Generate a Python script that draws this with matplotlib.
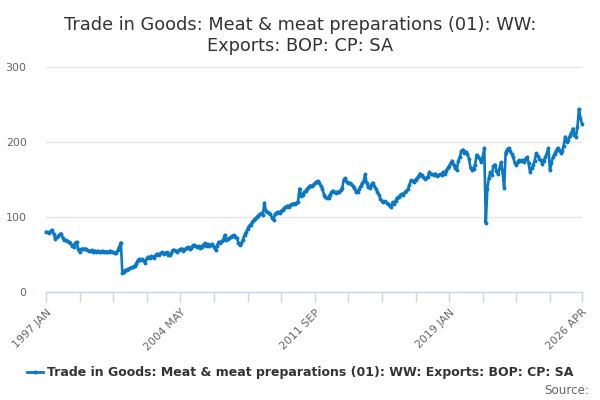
import matplotlib
matplotlib.use("Agg")
import matplotlib.pyplot as plt
from matplotlib.lines import Line2D

title = "Trade in Goods: Meat & meat preparations (01): WW:\nExports: BOP: CP: SA"
series_name = "Trade in Goods: Meat & meat preparations (01): WW: Exports: BOP: CP: SA"
months = ["JAN", "FEB", "MAR", "APR", "MAY", "JUN", "JUL", "AUG", "SEP", "OCT", "NOV", "DEC"]
start_year = 1997

# monthly values, one row per year (1997 JAN .. 2026 APR)
exports = [
    80, 80, 79, 81, 83, 78, 71, 73, 75, 77, 78, 72,            # 1997
    69, 69, 68, 67, 66, 62, 60, 65, 67, 58, 53, 57,            # 1998
    58, 57, 58, 56, 55, 55, 56, 54, 55, 54, 55, 53,            # 1999
    54, 55, 53, 54, 54, 53, 55, 54, 53, 52, 52, 56,            # 2000
    60, 66, 25, 27, 29, 30, 31, 32, 33, 33, 35, 38,            # 2001
    42, 44, 43, 44, 42, 39, 45, 47, 46, 48, 47, 46,            # 2002
    50, 51, 50, 52, 53, 51, 52, 53, 50, 49, 52, 56,            # 2003
    56, 55, 54, 56, 57, 58, 55, 57, 59, 60, 58, 59,            # 2004
    62, 63, 61, 60, 61, 59, 60, 63, 65, 62, 64, 61,            # 2005
    63, 64, 60, 56, 62, 67, 66, 68, 69, 76, 70, 71,            # 2006
    72, 73, 75, 76, 74, 72, 66, 63, 65, 70, 76, 80,            # 2007
    84, 88, 90, 93, 96, 98, 100, 102, 104, 105, 103, 119,      # 2008
    108, 107, 106, 104, 99, 96, 104, 106, 107, 106, 108, 110,  # 2009
    112, 114, 115, 114, 116, 117, 118, 118, 119, 120, 138, 128,  # 2010
    130, 133, 135, 138, 140, 142, 141, 143, 145, 147, 148, 146,  # 2011
    141, 138, 130, 127, 125, 126, 130, 134, 135, 133, 132, 134,  # 2012
    133, 136, 139, 150, 152, 147, 146, 145, 144, 141, 139, 134,  # 2013
    133, 137, 141, 145, 148, 157, 145, 140, 139, 143, 146, 141,  # 2014
    138, 134, 130, 124, 122, 120, 121, 119, 118, 115, 114, 120,  # 2015
    118, 122, 126, 127, 129, 131, 130, 133, 135, 137, 143, 149,  # 2016
    148, 147, 150, 152, 155, 158, 156, 153, 151, 152, 154, 160,  # 2017
    158, 157, 156, 158, 155, 156, 157, 156, 160, 158, 162, 165,  # 2018
    168, 172, 175, 170, 165, 163, 175, 180, 188, 190, 185, 187,  # 2019
    184, 178, 165, 163, 164, 170, 183, 180, 178, 173, 180, 192,  # 2020
    92, 138, 152, 160, 156, 168, 170, 162, 157, 165, 173, 160,   # 2021
    139, 186, 190, 192, 188, 184, 180, 172, 169, 174, 176, 175,  # 2022
    176, 174, 178, 180, 172, 160, 165, 169, 175, 185, 182, 178,  # 2023
    176, 171, 175, 180, 185, 192, 163, 172, 180, 184, 188, 192,  # 2024
    190, 186, 188, 195, 207, 200, 203, 208, 212, 218, 210, 207,  # 2025
    220, 244, 232, 224,                                          # 2026
]
tick_labels = ["1997 JAN", "2004 MAY", "2011 SEP", "2019 JAN", "2026 APR"]
y_ticks = [0, 100, 200, 300]


def month_index(label):
    y, m = label.split()
    return (int(y) - start_year) * 12 + months.index(m)


plt.rcParams["font.family"] = ["DejaVu Sans"]
blue = "#0a78c2"

fig = plt.figure(figsize=(6, 4), dpi=100)
ax = fig.add_axes([0.0767, 0.27, 0.8933, 0.5625])

x = list(range(len(exports)))
ax.plot(x, exports, color=blue, lw=1.9, marker="o", ms=2.8, mew=0, clip_on=False, zorder=3)

ax.set_xlim(0, len(exports) - 1)
ax.set_ylim(0, 300)
ax.set_yticks(y_ticks)
ax.tick_params(axis="y", length=0, labelsize=7.9, labelcolor="#666666", pad=14)
ax.grid(axis="y", color="#e6e6e6", lw=1)
ax.set_axisbelow(True)

minor = list(range(0, len(exports) - 1, 22)) + [len(exports) - 1]
ax.set_xticks(minor)
lab_pos = [month_index(t) for t in tick_labels]
ax.set_xticklabels([tick_labels[lab_pos.index(p)] if p in lab_pos else "" for p in minor],
                   rotation=45, ha="right", va="top", rotation_mode="anchor")
ax.tick_params(axis="x", length=7, width=1, color="#ccd6eb", labelsize=7.9,
               labelcolor="#666666", pad=4)

for s in ["top", "right", "left"]:
    ax.spines[s].set_visible(False)
ax.spines["bottom"].set_color("#ccd6eb")
ax.spines["bottom"].set_linewidth(1)

fig.text(0.5, 0.96, title, ha="center", va="top", fontsize=12.8, color="#333333",
         linespacing=1.2)

handle = Line2D([0], [0], color=blue, lw=2, marker="o", ms=3, mew=0)
fig.legend([handle], [series_name], loc="center", bbox_to_anchor=(0.5, 0.068),
           frameon=False, handlelength=1.3, handletextpad=0.3,
           prop={"size": 9, "weight": "bold"}, labelcolor="#333333")

fig.text(0.982, 0.025, "Source:", ha="right", va="center", fontsize=8.6, color="#666666")

plt.savefig("out.png", dpi=100)
plt.close()
